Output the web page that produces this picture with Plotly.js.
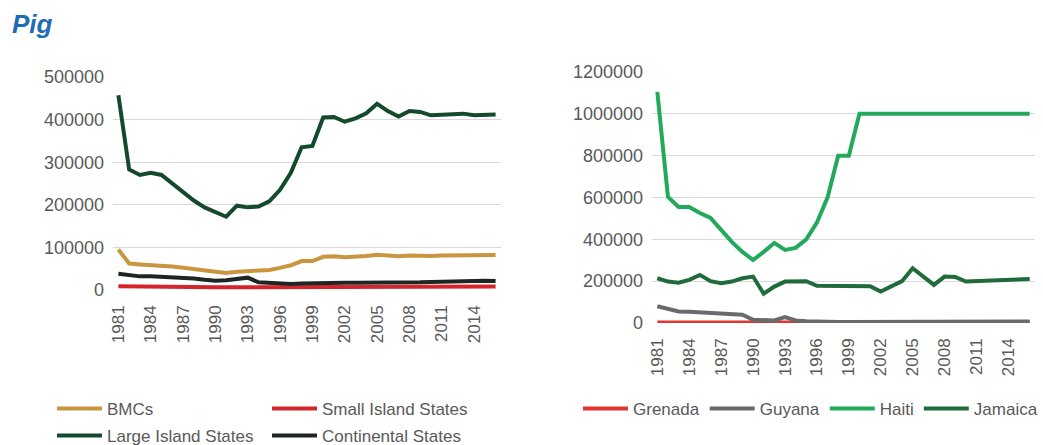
<!DOCTYPE html>
<html>
<head>
<meta charset="utf-8">
<script src="https://cdn.plot.ly/plotly-3.0.1.min.js"></script>
<style>html,body{margin:0;padding:0;background:#fff;}#chart{width:1043px;height:445px;}</style>
</head>
<body>
<div id="chart"></div>
<script>
const years = [];
for (let y = 1981; y <= 2016; y++) years.push(y);

// Left panel (regional groups)
const bmcs = [95000,62000,60000,59000,58000,55000,52000,49000,46000,43000,40000,43000,44000,45000,47000,52000,58000,68000,68000,78000,79000,77000,78000,80000,83000,80000,79000,81000,80000,80000,81000,81000,82000,82000,83000,82000];
const smallIsland = [9000,8500,8000,8000,7500,7500,7000,7000,7000,6500,6500,6500,6500,6500,6000,6000,6000,6000,6000,6000,6000,6000,6000,6500,6500,6500,6500,6500,7000,7000,7000,7500,7500,8000,8000,8000];
const largeIsland = [457000,283000,270000,275000,270000,250000,230000,210000,194000,182000,172000,198000,194000,196000,208000,235000,275000,335000,338000,405000,406000,395000,403000,415000,437000,420000,407000,420000,418000,410000,411000,412000,414000,410000,412000,412000];
const continental = [38000,35000,32000,32000,31000,30000,29000,27000,24000,22000,23000,26000,29000,18000,16000,14000,14000,15000,16000,17000,18000,17000,17000,17000,17000,17000,16000,16000,18000,19000,20000,21000,21000,22000,22000,21000];

// Right panel (countries)
const grenada = [2000,2000,2000,2000,2000,2000,2000,2000,2000,2000,2000,2000,2000,2000,2000,2000,2000,2000,2000,2000,2000,2000,2000,2000,2000,2000,2000,2000,2000,2000,2000,2000,2000,2000,2000,2000];
const guyana = [80000,65000,55000,54000,52000,48000,45000,44000,40000,15000,14000,12000,28000,12000,8000,6000,5000,5000,5000,5000,5000,5000,5000,5000,6000,6000,6000,6000,6000,6000,6000,7000,7000,8000,8000,7000];
const haiti = [1105000,603000,555000,555000,526000,502000,445000,388000,340000,301000,340000,383000,349000,359000,400000,480000,600000,800000,800000,1000000,1000000,1000000,1000000,1000000,1000000,1000000,1000000,1000000,1000000,1000000,1000000,1000000,1000000,1000000,1000000,1000000];
const jamaica = [214000,198000,193000,206000,230000,200000,190000,198000,214000,222000,140000,174000,198000,200000,200000,178000,177000,177000,177000,177000,176000,150000,175000,200000,262000,222000,182000,222000,220000,198000,200000,204000,208000,210000,210000,210000];

const leftTicks = [0,100000,200000,300000,400000,500000];
const rightTicks = [0,200000,400000,600000,800000,1000000,1200000];

const W = 1043, H = 445;
const FONT = 'Liberation Sans, Arial, sans-serif';
const GREY = '#595959';
const LW = 4;

function tr(name, y, color, xa, ya, leg) {
  return {x: years, y: y, name: name, type: 'scatter', mode: 'lines',
    line: {color: color, width: LW}, xaxis: xa, yaxis: ya, legend: leg};
}

const data = [
  tr('BMCs', bmcs, '#C9963F', 'x', 'y', 'legend'),
  tr('Small Island States', smallIsland, '#D4252B', 'x', 'y', 'legend'),
  tr('Large Island States', largeIsland, '#134A2C', 'x', 'y', 'legend2'),
  tr('Continental States', continental, '#1E2624', 'x', 'y', 'legend2'),
  tr('Grenada', grenada, '#E2352F', 'x2', 'y2', 'legend3'),
  tr('Guyana', guyana, '#6A6A6E', 'x2', 'y2', 'legend3'),
  tr('Haiti', haiti, '#23A95B', 'x2', 'y2', 'legend3'),
  tr('Jamaica', jamaica, '#1F6B3A', 'x2', 'y2', 'legend3')
];

function xax(d) {
  return {domain: d, range: [1980.5, 2016.5], tickmode: 'linear', tick0: 1981, dtick: 3,
    tickangle: -90, showgrid: false, zeroline: false, showline: false, ticks: '',
    tickfont: {family: FONT, size: 17, color: GREY}, ticklabelstandoff: 11};
}
function yax(d, r, tv) {
  return {domain: d, range: r, tickmode: 'array', tickvals: tv, ticktext: tv.map(String),
    showgrid: true, gridcolor: '#D9D9D9', gridwidth: 1, zeroline: false, showline: false, ticks: '',
    tickfont: {family: FONT, size: 18, color: GREY}, ticklabelstandoff: 8};
}

const legBase = {orientation: 'h', bgcolor: 'rgba(0,0,0,0)', font: {family: FONT, size: 17, color: GREY},
  xanchor: 'left', yanchor: 'middle', itemclick: false, tracegroupgap: 0, itemwidth: 45};

const layout = {
  width: W, height: H,
  margin: {l: 0, r: 0, t: 0, b: 0, autoexpand: false},
  paper_bgcolor: '#ffffff', plot_bgcolor: '#ffffff',
  title: {text: '<b><i>Pig</i></b>', x: 12 / W, xanchor: 'left', y: 1 - 24 / H, yanchor: 'middle',
    font: {family: FONT, size: 26, color: '#1F6DB5'}},
  xaxis: xax([113 / W, 501 / W]),
  yaxis: yax([(H - 290) / H, (H - 77) / H], [0, 500000], leftTicks),
  xaxis2: Object.assign(xax([652 / W, 1035 / W]), {anchor: 'y2'}),
  yaxis2: Object.assign(yax([(H - 323) / H, (H - 72) / H], [0, 1200000], rightTicks), {anchor: 'x2'}),
  showlegend: true,
  legend: Object.assign({}, legBase, {x: 52 / W, y: 1 - 409 / H, entrywidth: 155, entrywidthmode: 'pixels'}),
  legend2: Object.assign({}, legBase, {x: 52 / W, y: 1 - 436 / H, entrywidth: 155, entrywidthmode: 'pixels'}),
  legend3: Object.assign({}, legBase, {x: 578 / W, y: 1 - 409 / H, itemgap: 8})
};

Plotly.newPlot('chart', data, layout, {staticPlot: true, displayModeBar: false});
</script>
</body>
</html>
